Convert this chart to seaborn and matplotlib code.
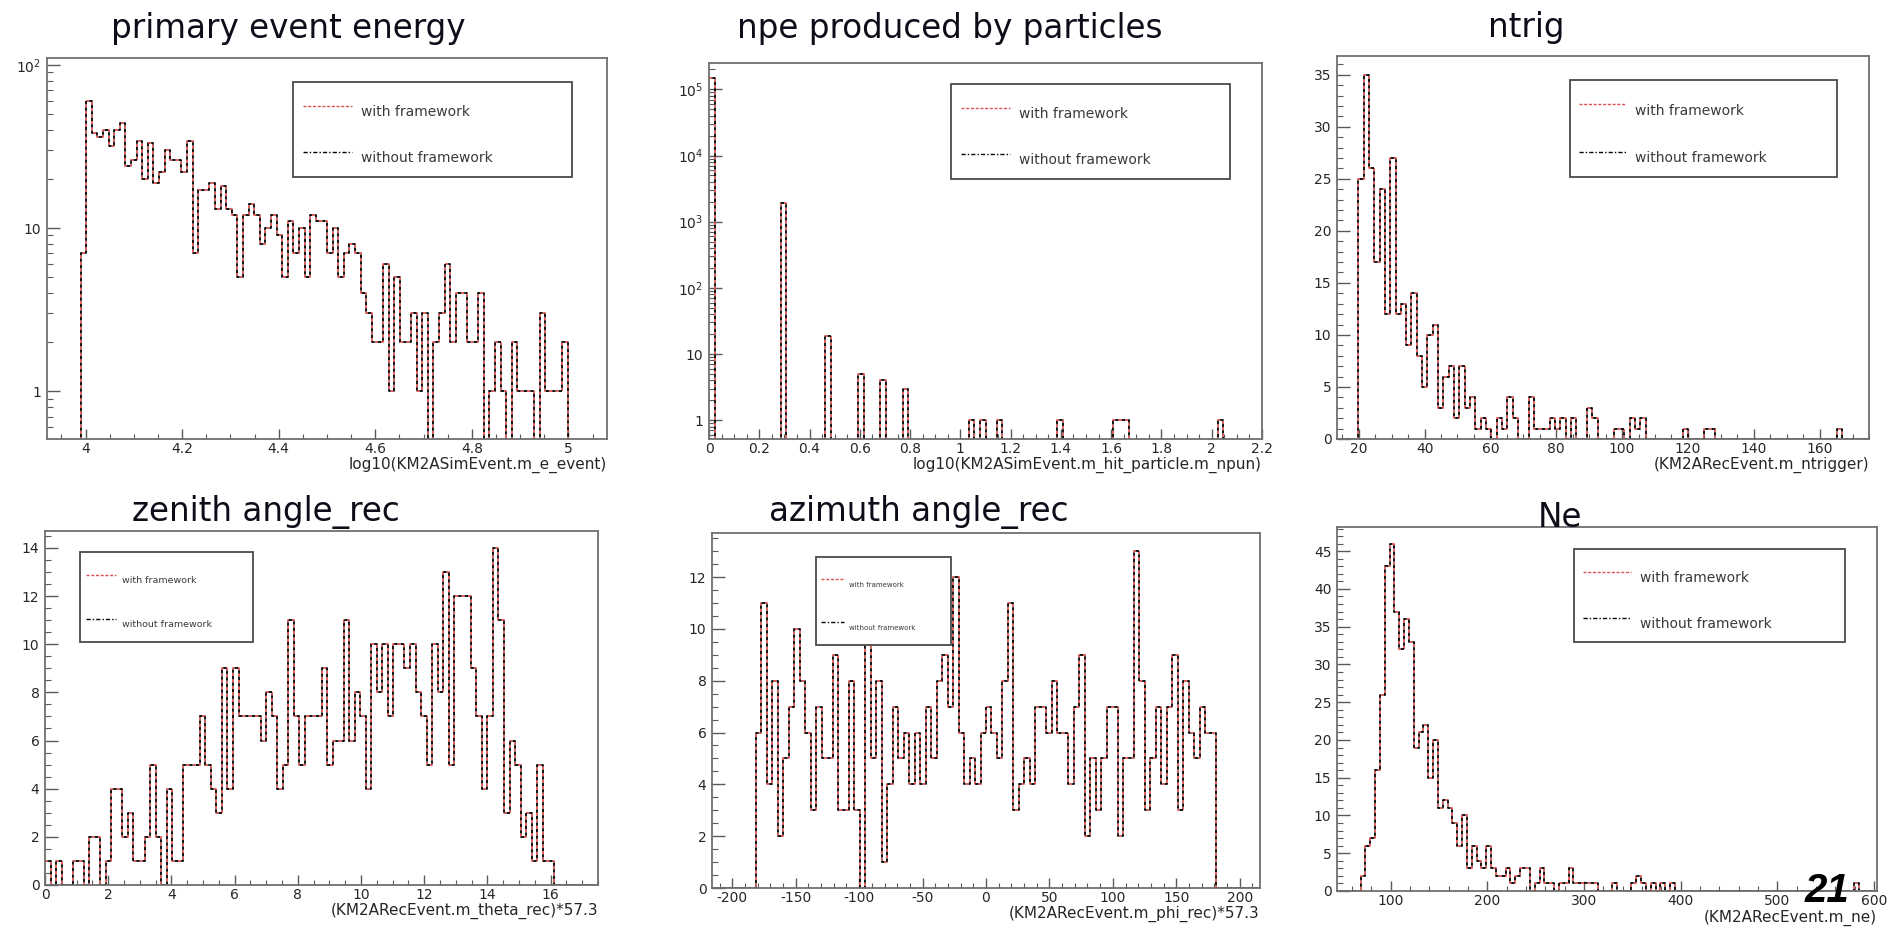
import numpy as np
import pandas as pd
import matplotlib
matplotlib.use("Agg")
import matplotlib.pyplot as plt
import seaborn as sns
from matplotlib.ticker import (MultipleLocator, FixedLocator, FixedFormatter,
                               FuncFormatter, LogLocator, NullFormatter)
from matplotlib.lines import Line2D
from matplotlib.patches import Rectangle

# ------------------------------------------------------------------ data
titles = ["primary event energy", "npe produced by particles", "ntrig",
          "zenith angle_rec", "azimuth angle_rec", "Ne"]
xlabels = ["log10(KM2ASimEvent.m_e_event)",
           "log10(KM2ASimEvent.m_hit_particle.m_npun)",
           "(KM2ARecEvent.m_ntrigger)",
           "(KM2ARecEvent.m_theta_rec)*57.3",
           "(KM2ARecEvent.m_phi_rec)*57.3",
           "(KM2ARecEvent.m_ne)"]
series_names = ["with framework", "without framework"]
page_number = "21"

# histogram binning: (low edge, high edge, number of bins)
energy_bins = (3.92, 5.08, 100)
energy_counts = [0, 0, 0, 0, 0, 0, 7, 60, 38, 36,
                 40, 32, 40, 44, 24, 26, 34, 20, 33, 19,
                 22, 30, 26, 26, 22, 34, 7, 17, 17, 19,
                 13, 18, 13, 12, 5, 12, 14, 12, 8, 10,
                 12, 9, 5, 11, 7, 10, 5, 12, 11, 11,
                 7, 10, 5, 7, 8, 7, 4, 3, 2, 2,
                 6, 1, 5, 2, 2, 3, 1, 3, 0, 2,
                 3, 6, 2, 4, 4, 2, 2, 4, 0, 1,
                 2, 1, 0, 2, 1, 1, 1, 0, 3, 1,
                 1, 1, 2, 0, 0, 0, 0, 0, 0, 0]
energy_yticks = [1, 10, 100]
energy_yticklabels = ["1", "10", "$10^{2}$"]

npe_bins = (0.0, 2.2, 100)
npe_filled_bins = [0, 13, 21, 27, 31, 35, 47, 49, 52, 63, 73, 74, 75, 92]
npe_filled_counts = [150000, 1900, 19, 5, 4, 3, 1, 1, 1, 1, 1, 1, 1, 1]
npe_yticks = [1, 10, 100, 1000, 10000, 100000]
npe_yticklabels = ["1", "10", "$10^{2}$", "$10^{3}$", "$10^{4}$", "$10^{5}$"]

ntrig_bins = (13.4, 175.0, 100)
ntrig_counts = [0, 0, 0, 0, 25, 35, 26, 17, 24, 12,
                27, 12, 13, 9, 14, 8, 5, 10, 11, 3,
                6, 7, 2, 7, 3, 4, 1, 2, 1, 0,
                2, 1, 4, 2, 0, 0, 4, 1, 1, 1,
                2, 1, 2, 0, 2, 0, 0, 3, 2, 0,
                0, 0, 1, 1, 0, 2, 1, 2, 0, 0,
                0, 0, 0, 0, 0, 1, 0, 0, 0, 1,
                1, 0, 0, 0, 0, 0, 0, 0, 0, 0,
                0, 0, 0, 0, 0, 0, 0, 0, 0, 0,
                0, 0, 0, 0, 1, 0, 0, 0, 0, 0]

zenith_bins = (0.0, 17.5, 100)
zenith_counts = [1, 0, 1, 0, 0, 1, 1, 0, 2, 2,
                 0, 1, 4, 4, 2, 3, 1, 1, 2, 5,
                 2, 0, 4, 1, 1, 5, 5, 5, 7, 5,
                 4, 3, 9, 4, 9, 7, 7, 7, 7, 6,
                 8, 7, 4, 5, 11, 7, 5, 7, 7, 7,
                 9, 5, 6, 6, 11, 6, 8, 7, 4, 10,
                 8, 10, 7, 10, 10, 9, 10, 8, 7, 5,
                 10, 8, 13, 5, 12, 12, 12, 9, 7, 4,
                 7, 14, 11, 3, 6, 5, 2, 3, 1, 5,
                 1, 1, 0, 0, 0, 0, 0, 0, 0, 0]

azimuth_bins = (-216.0, 216.0, 100)
azimuth_counts = [0, 0, 0, 0, 0, 0, 0, 0, 6, 11,
                  4, 8, 2, 5, 7, 10, 8, 6, 3, 7,
                  5, 5, 9, 3, 3, 8, 3, 0, 11, 5,
                  8, 1, 4, 7, 5, 6, 4, 6, 4, 7,
                  5, 8, 9, 7, 12, 6, 4, 5, 4, 6,
                  7, 6, 5, 8, 11, 3, 4, 5, 4, 7,
                  7, 6, 8, 6, 6, 4, 7, 9, 2, 5,
                  3, 5, 7, 7, 2, 5, 5, 13, 8, 3,
                  5, 7, 4, 7, 9, 3, 8, 6, 5, 7,
                  6, 6, 0, 0, 0, 0, 0, 0, 0, 0]

ne_bins = (44.0, 604.0, 112)
ne_counts = [0, 0, 0, 0, 0, 2, 6, 7, 16, 26,
             43, 46, 37, 32, 36, 33, 19, 21, 22, 15,
             20, 11, 12, 11, 9, 6, 10, 3, 6, 4,
             3, 6, 3, 2, 2, 3, 1, 2, 3, 3,
             0, 1, 3, 1, 1, 0, 1, 1, 3, 1,
             1, 1, 1, 1, 0, 0, 0, 1, 0, 0,
             0, 1, 2, 1, 0, 1, 0, 1, 0, 1,
             0, 0, 0, 0, 0, 0, 0, 0, 0, 0,
             0, 0, 0, 0, 0, 0, 0, 0, 0, 0,
             0, 0, 0, 0, 0, 0, 0, 0, 0, 0,
             0, 0, 0, 0, 0, 0, 0, 1, 0, 0,
             0, 0]

# ------------------------------------------------------------------ style
sns.set_theme(style="white")
plt.rcParams["font.family"] = ["DejaVu Sans"]
plt.rcParams["axes.unicode_minus"] = False
plt.rcParams["mathtext.default"] = "regular"

W, H = 1901, 927
RED = "#d9534f"
TXT = "#262626"


def fx(px):
    return px / W


def fy(py):
    return 1.0 - py / H


def add_axes_px(fig, x0, y0, x1, y1):
    return fig.add_axes([fx(x0), fy(y1), (x1 - x0) / W, (y1 - y0) / H])


def draw_hist(ax, binning, counts):
    lo, hi, n = binning
    width = (hi - lo) / n
    centers = lo + width * (np.arange(n) + 0.5)
    df = pd.DataFrame({"value": centers, "count": np.asarray(counts, float)})
    sns.histplot(data=df, x="value", weights="count", bins=n, binrange=(lo, hi),
                 element="step", fill=False, color=RED, linewidth=1.3,
                 linestyle=(0, (1.8, 1.8)), ax=ax)
    sns.histplot(data=df, x="value", weights="count", bins=n, binrange=(lo, hi),
                 element="step", fill=False, color="black", linewidth=1.3,
                 linestyle=(1.8, (1.8, 1.8)), ax=ax)


def fmt_g(v, pos):
    if abs(v) < 1e-9:
        v = 0.0
    return f"{v:g}"


def style_axes(ax, xlabel, label_drop_px, height_px):
    for s in ax.spines.values():
        s.set_visible(True)
        s.set_color("#707070")
        s.set_linewidth(1.3)
    ax.set_facecolor("white")
    ax.grid(False)
    ax.tick_params(axis="both", which="both", direction="in",
                   colors="#5a5a5a", labelcolor=TXT, labelsize=10,
                   top=False, right=False, bottom=True, left=True)
    ax.tick_params(axis="x", which="major", length=7, width=1.0, pad=2)
    ax.tick_params(axis="x", which="minor", length=3.5, width=0.8)
    ax.tick_params(axis="y", which="major", length=9, width=1.0, pad=4)
    ax.tick_params(axis="y", which="minor", length=4.5, width=0.8)
    ax.xaxis.set_major_formatter(FuncFormatter(fmt_g))
    ax.set_ylabel("")
    ax.set_xlabel(xlabel, fontsize=11, color=TXT, loc="right", va="center")
    ax.xaxis.set_label_coords(1.0, -label_drop_px / height_px)


def draw_legend(fig, box, fs):
    x0, y0, x1, y1 = box
    w, h = x1 - x0, y1 - y0
    fig.add_artist(Rectangle((fx(x0), fy(y1)), (x1 - x0) / W, (y1 - y0) / H,
                             transform=fig.transFigure, facecolor="white",
                             edgecolor="#4a4a4a", linewidth=1.3, zorder=5))
    rows = [(0.25, RED, (0, (2.2, 1.2)), series_names[0]),
            (0.74, "black", (0, (3, 1.5, 1, 1.5)), series_names[1])]
    for ry, col, ls, lab in rows:
        ly = y0 + ry * h
        fig.add_artist(Line2D([fx(x0 + 0.035 * w), fx(x0 + 0.21 * w)],
                              [fy(ly), fy(ly)], transform=fig.transFigure,
                              color=col, linestyle=ls, linewidth=1.0, zorder=6))
        fig.text(fx(x0 + 0.245 * w), fy(ly + 0.065 * h), lab, fontsize=fs,
                 color="#3a3a3a", ha="left", va="center", zorder=7)


fig = plt.figure(figsize=(W / 100, H / 100), dpi=100)
fig.patch.set_facecolor("white")

# panel geometry in pixels (x0, y0, x1, y1), top-left origin
panels = [(47, 58, 607, 439), (709, 63, 1262, 439), (1337, 56, 1869, 439),
          (45, 531, 598, 885), (712, 533, 1260, 888), (1337, 527, 1877, 891)]
legend_boxes = [(293, 82, 572, 177), (951, 84, 1230, 179), (1570, 80, 1837, 177),
                (80, 552, 253, 642), (816, 557, 951, 645), (1574, 549, 1845, 642)]
legend_fs = [10, 10, 10, 6.8, 5.0, 10]
title_pos = [(288, 38), (950, 38), (1526, 37), (266, 521), (919, 521), (1560, 527)]
label_drop = [26, 26, 26, 26, 26, 27]

axes = [add_axes_px(fig, *p) for p in panels]

# --- panel 1: primary event energy (log y)
ax = axes[0]
draw_hist(ax, energy_bins, energy_counts)
ax.set_yscale("log", nonpositive="clip")
ax.set_xlim(3.92, 5.08)
ax.set_ylim(0.51, 110)
ax.xaxis.set_major_locator(MultipleLocator(0.2))
ax.xaxis.set_minor_locator(MultipleLocator(0.05))
ax.yaxis.set_major_locator(FixedLocator(energy_yticks))
ax.yaxis.set_major_formatter(FixedFormatter(energy_yticklabels))
ax.yaxis.set_minor_locator(LogLocator(base=10, subs=np.arange(2, 10)))
ax.yaxis.set_minor_formatter(NullFormatter())

# --- panel 2: npe (log y)
ax = axes[1]
npe_counts = np.zeros(npe_bins[2])
npe_counts[npe_filled_bins] = npe_filled_counts
draw_hist(ax, npe_bins, npe_counts)
ax.set_yscale("log", nonpositive="clip")
ax.set_xlim(0, 2.2)
ax.set_ylim(0.52, 2.5e5)
ax.xaxis.set_major_locator(MultipleLocator(0.2))
ax.xaxis.set_minor_locator(MultipleLocator(0.05))
ax.yaxis.set_major_locator(FixedLocator(npe_yticks))
ax.yaxis.set_major_formatter(FixedFormatter(npe_yticklabels))
ax.yaxis.set_minor_locator(LogLocator(base=10, subs=np.arange(2, 10)))
ax.yaxis.set_minor_formatter(NullFormatter())

# --- panel 3: ntrig
ax = axes[2]
draw_hist(ax, ntrig_bins, ntrig_counts)
ax.set_xlim(13.4, 175)
ax.set_ylim(0, 36.8)
ax.xaxis.set_major_locator(MultipleLocator(20))
ax.xaxis.set_minor_locator(MultipleLocator(5))
ax.yaxis.set_major_locator(MultipleLocator(5))
ax.yaxis.set_minor_locator(MultipleLocator(1))

# --- panel 4: zenith
ax = axes[3]
draw_hist(ax, zenith_bins, zenith_counts)
ax.set_xlim(0, 17.5)
ax.set_ylim(0, 14.7)
ax.xaxis.set_major_locator(MultipleLocator(2))
ax.xaxis.set_minor_locator(MultipleLocator(0.5))
ax.yaxis.set_major_locator(MultipleLocator(2))
ax.yaxis.set_minor_locator(MultipleLocator(0.5))

# --- panel 5: azimuth
ax = axes[4]
draw_hist(ax, azimuth_bins, azimuth_counts)
ax.set_xlim(-216, 216)
ax.set_ylim(0, 13.7)
ax.xaxis.set_major_locator(MultipleLocator(50))
ax.xaxis.set_minor_locator(MultipleLocator(10))
ax.yaxis.set_major_locator(MultipleLocator(2))
ax.yaxis.set_minor_locator(MultipleLocator(0.5))

# --- panel 6: Ne
ax = axes[5]
draw_hist(ax, ne_bins, ne_counts)
ax.set_xlim(44.6, 603)
ax.set_ylim(0, 48.2)
ax.xaxis.set_major_locator(MultipleLocator(100))
ax.xaxis.set_minor_locator(MultipleLocator(20))
ax.yaxis.set_major_locator(MultipleLocator(5))
ax.yaxis.set_minor_locator(MultipleLocator(1))

for i, ax in enumerate(axes):
    x0, y0, x1, y1 = panels[i]
    style_axes(ax, xlabels[i], label_drop[i], y1 - y0)
    draw_legend(fig, legend_boxes[i], legend_fs[i])
    tx, ty = title_pos[i]
    fig.text(fx(tx), fy(ty), titles[i], fontsize=23.5, color="#0d0d1a",
             ha="center", va="baseline", zorder=8)

fig.text(fx(1827), fy(902), page_number, fontsize=29, fontweight="bold",
         fontstyle="italic", family=["Liberation Sans", "DejaVu Sans"],
         color="black", ha="center", va="baseline", zorder=10)

fig.savefig("out.png", dpi=100, facecolor="white")
